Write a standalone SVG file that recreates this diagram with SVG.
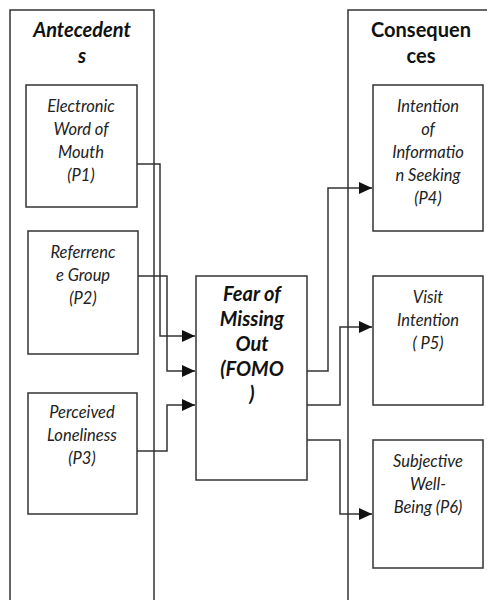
<svg xmlns="http://www.w3.org/2000/svg" width="487" height="600" viewBox="0 0 487 600">
<style>
.box{fill:#fff;stroke:#333;stroke-width:1.5}
.t{font-family:Lato,"Open Sans",sans-serif;font-style:italic;font-size:16.5px;fill:#222;text-anchor:middle}
.h{font-family:Lato,"Open Sans",sans-serif;font-weight:bold;font-size:20px;fill:#111;text-anchor:middle}
.c{fill:none;stroke:#333;stroke-width:1.5}
</style>
<defs>
<marker id="a" markerWidth="13" markerHeight="12" refX="13" refY="6" orient="auto" markerUnits="userSpaceOnUse">
<path d="M0,0 L13,6 L0,12 Z" fill="#111"/>
</marker>
</defs>
<g id="antecedents">
<rect class="box" x="10" y="10" width="144" height="600"/>
<text class="h" font-style="italic" x="82" y="37">Antecedent</text>
<text class="h" font-style="italic" x="82" y="63">s</text>
</g>
<g id="consequences">
<rect class="box" x="348" y="10" width="150" height="600"/>
<text class="h" x="421" y="37">Consequen</text>
<text class="h" x="421" y="63">ces</text>
</g>
<g id="p1">
<rect class="box" x="26" y="85" width="111" height="122"/>
<text class="t" x="81" y="112">Electronic</text>
<text class="t" x="81" y="135">Word of</text>
<text class="t" x="81" y="158">Mouth</text>
<text class="t" x="81" y="181">(P1)</text>
</g>
<g id="p2">
<rect class="box" x="28" y="231" width="110" height="123"/>
<text class="t" x="83" y="258">Referrenc</text>
<text class="t" x="83" y="281">e Group</text>
<text class="t" x="83" y="304">(P2)</text>
</g>
<g id="p3">
<rect class="box" x="28" y="393" width="109" height="121"/>
<text class="t" x="82" y="418">Perceived</text>
<text class="t" x="82" y="441">Loneliness</text>
<text class="t" x="82" y="464">(P3)</text>
</g>
<g id="fomo">
<rect class="box" x="196" y="276" width="111" height="204"/>
<text class="h" font-style="italic" x="252" y="301">Fear of</text>
<text class="h" font-style="italic" x="252" y="326">Missing</text>
<text class="h" font-style="italic" x="252" y="351">Out</text>
<text class="h" font-style="italic" x="252" y="376">(FOMO</text>
<text class="h" font-style="italic" x="252" y="401">)</text>
</g>
<g id="p4">
<rect class="box" x="373" y="85" width="110" height="146"/>
<text class="t" x="428" y="112">Intention</text>
<text class="t" x="428" y="135">of</text>
<text class="t" x="428" y="158">Informatio</text>
<text class="t" x="428" y="181">n Seeking</text>
<text class="t" x="428" y="204">(P4)</text>
</g>
<g id="p5">
<rect class="box" x="373" y="276" width="110" height="129"/>
<text class="t" x="428" y="303">Visit</text>
<text class="t" x="428" y="326">Intention</text>
<text class="t" x="428" y="349">( P5)</text>
</g>
<g id="p6">
<rect class="box" x="373" y="440" width="110" height="128"/>
<text class="t" x="428" y="467">Subjective</text>
<text class="t" x="428" y="490">Well-</text>
<text class="t" x="428" y="513">Being (P6)</text>
</g>
<g id="connectors">
<polyline class="c" points="137,164 160,164 160,336 195,336" marker-end="url(#a)"/>
<polyline class="c" points="138,276 167,276 167,371 195,371" marker-end="url(#a)"/>
<polyline class="c" points="137,451 167,451 167,405 195,405" marker-end="url(#a)"/>
<polyline class="c" points="307,371 328,371 328,188 372,188" marker-end="url(#a)"/>
<polyline class="c" points="307,405 340,405 340,327 372,327" marker-end="url(#a)"/>
<polyline class="c" points="307,440 340,440 340,514 372,514" marker-end="url(#a)"/>
</g>
</svg>
